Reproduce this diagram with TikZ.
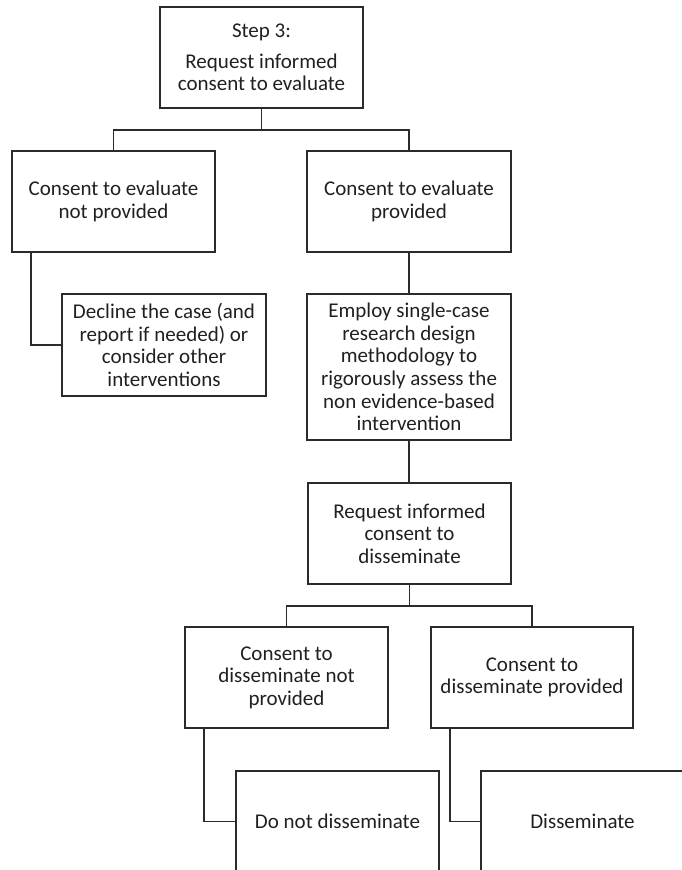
\documentclass[tikz,border=0pt]{standalone}
\usepackage{fontspec}
\setmainfont{Carlito}
\definecolor{ink}{HTML}{231F20}
\definecolor{rule}{HTML}{2B2B2B}
\begin{document}
\begin{tikzpicture}[x=1pt,y=-1pt,
  box/.style={draw=rule, line width=1.9pt, rectangle, align=center,
    minimum width=203pt, inner sep=0pt, text=ink,
    font=\fontsize{21}{22.6}\selectfont},
  link/.style={draw=rule, line width=1.9pt}]
  \useasboundingbox (0,0) rectangle (682,870);
  \clip (0,0) rectangle (682,870);

  % decision about evaluation
  \node[box, minimum height=101pt] (top) at (261.5,57.5)
    {Step 3:\\[8pt]Request informed\\consent to evaluate};
  \node[box, minimum height=101pt] (cnp) at (113.5,201.5)
    {Consent to evaluate\\not provided};
  \node[box, minimum height=101pt, minimum width=204pt] (cp) at (409,201.5)
    {Consent to evaluate\\provided};
  \node[box, minimum height=102pt, minimum width=204pt] (decline) at (164,345)
    {Decline the case (and\\report if needed) or\\consider other\\interventions};
  \node[box, minimum height=146pt, minimum width=204pt] (employ) at (409,367)
    {Employ single-case\\research design\\methodology to\\rigorously assess the\\non evidence-based\\intervention};

  % decision about dissemination
  \node[box, minimum height=101pt] (reqd) at (409.5,533.5)
    {Request informed\\consent to\\disseminate};
  \node[box, minimum height=101pt] (cdnp) at (286.5,677.5)
    {Consent to\\disseminate not\\provided};
  \node[box, minimum height=101pt, minimum width=202pt] (cdp) at (532,677.5)
    {Consent to\\disseminate provided};
  \node[box, minimum height=101pt] (donot) at (337.5,821.5)
    {Do not disseminate};
  \node[box, minimum height=101pt] (dissem) at (582.5,821.5)
    {Disseminate};

  % connectors
  \draw[link] (top.south) -- ++(0,21) coordinate (b1);
  \draw[link] (b1) -| (cnp.north);
  \draw[link] (b1) -| (cp.north);
  \draw[link] ([xshift=20pt]cnp.south west) |- (decline.west);
  \draw[link] (cp.south) -- (employ.north);
  \draw[link] (employ.south) -- (employ.south |- reqd.north);
  \draw[link] (reqd.south) -- ++(0,21) coordinate (b2);
  \draw[link] (b2) -| (cdnp.north);
  \draw[link] (b2) -| (cdp.north);
  \draw[link] ([xshift=20pt]cdnp.south west) |- (donot.west);
  \draw[link] ([xshift=20pt]cdp.south west) |- (dissem.west);
\end{tikzpicture}
\end{document}
